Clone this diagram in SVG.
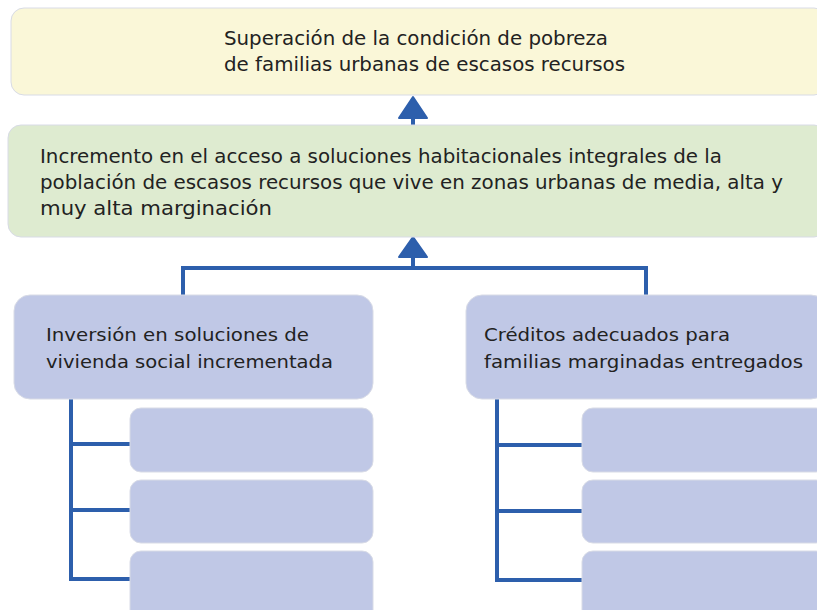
<svg xmlns="http://www.w3.org/2000/svg" width="817" height="610" viewBox="0 0 817 610">
<style>
.box{stroke:#d8dbe6;stroke-width:1}
.goal{fill:#faf7d8}
.purpose{fill:#deebd0}
.comp{fill:#c0c8e6}
.t1{font-family:"DejaVu Sans Condensed","DejaVu Sans",sans-serif;font-size:19px;fill:#222}
.t2{font-family:"DejaVu Sans",Verdana,sans-serif;font-size:18px;fill:#222}
.ln{stroke:#2d5fac;stroke-width:4;fill:none;stroke-linejoin:miter}
.ah{fill:#2d5fac;stroke:#2d5fac;stroke-width:2;stroke-linejoin:round}
</style>
<rect width="817" height="610" fill="#ffffff"/>
<g id="connectors">
<line class="ln" x1="413" y1="110" x2="413" y2="126"/>
<polygon class="ah" points="413,97 427,118 399,118"/>
<polygon class="ah" points="413,237 427,257 399,257"/>
<polyline class="ln" points="413,250 413,268"/>
<polyline class="ln" points="183,296 183,268 646,268 646,296"/>
<polyline class="ln" points="71,398 71,579 131,579"/>
<line class="ln" x1="71" y1="444" x2="131" y2="444"/>
<line class="ln" x1="71" y1="510" x2="131" y2="510"/>
<polyline class="ln" points="497,398 497,580 583,580"/>
<line class="ln" x1="497" y1="445" x2="583" y2="445"/>
<line class="ln" x1="497" y1="511" x2="583" y2="511"/>
</g>
<g id="goal">
<rect class="box goal" x="11" y="8" width="816" height="87" rx="13"/>
<text class="t1" x="224" y="45" textLength="384" lengthAdjust="spacingAndGlyphs">Superación de la condición de pobreza</text>
<text class="t1" x="224" y="71" textLength="401" lengthAdjust="spacingAndGlyphs">de familias urbanas de escasos recursos</text>
</g>
<g id="purpose">
<rect class="box purpose" x="8" y="125" width="819" height="112" rx="13"/>
<text class="t1" x="40" y="163" textLength="682" lengthAdjust="spacingAndGlyphs">Incremento en el acceso a soluciones habitacionales integrales de la</text>
<text class="t1" x="40" y="189" textLength="743" lengthAdjust="spacingAndGlyphs">población de escasos recursos que vive en zonas urbanas de media, alta y</text>
<text class="t1" x="40" y="215" textLength="232" lengthAdjust="spacingAndGlyphs">muy alta marginación</text>
</g>
<g id="component1">
<rect class="box comp" x="14" y="295" width="359" height="104" rx="16"/>
<text class="t2" x="46" y="341" textLength="263" lengthAdjust="spacingAndGlyphs">Inversión en soluciones de</text>
<text class="t2" x="46" y="368" textLength="287" lengthAdjust="spacingAndGlyphs">vivienda social incrementada</text>
</g>
<g id="component2">
<rect class="box comp" x="466" y="295" width="361" height="104" rx="16"/>
<text class="t2" x="484" y="341" textLength="246" lengthAdjust="spacingAndGlyphs">Créditos adecuados para</text>
<text class="t2" x="484" y="368" textLength="319" lengthAdjust="spacingAndGlyphs">familias marginadas entregados</text>
</g>
<g id="activity1a"><rect class="box comp" x="130" y="408" width="243" height="64" rx="11"/></g>
<g id="activity1b"><rect class="box comp" x="130" y="480" width="243" height="63" rx="11"/></g>
<g id="activity1c"><rect class="box comp" x="130" y="551" width="243" height="70" rx="11"/></g>
<g id="activity2a"><rect class="box comp" x="582" y="408" width="245" height="64" rx="11"/></g>
<g id="activity2b"><rect class="box comp" x="582" y="480" width="245" height="63" rx="11"/></g>
<g id="activity2c"><rect class="box comp" x="582" y="551" width="245" height="70" rx="11"/></g>
</svg>
